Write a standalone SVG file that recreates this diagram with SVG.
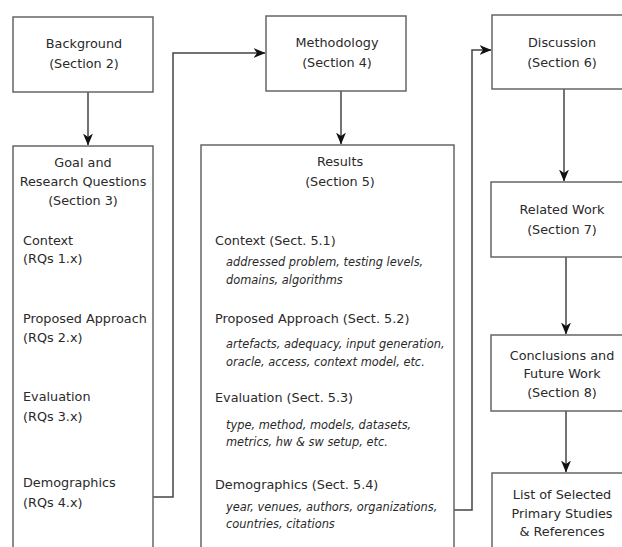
<svg xmlns="http://www.w3.org/2000/svg" width="622" height="547" viewBox="0 0 622 547">
<defs>
<marker id="ah" viewBox="0 0 12 10" refX="11.5" refY="5" markerWidth="12" markerHeight="10" markerUnits="userSpaceOnUse" orient="auto">
<path d="M0,0 L12,5 L0,10 L3.5,5 z" fill="#111"/>
</marker>
</defs>
<style>
.box{fill:#fff;stroke:#666;stroke-width:1.5}
.t{font-family:"DejaVu Sans",Verdana,sans-serif;font-size:12.8px;fill:#2a2a2a}
.c{text-anchor:middle}
.i{font-family:"DejaVu Sans",Verdana,sans-serif;font-size:11.4px;font-style:italic;fill:#2a2a2a}
.ln{fill:none;stroke:#444;stroke-width:1.5}
</style>
<rect width="622" height="547" fill="#fff"/>
<g id="connectors">
<line class="ln" x1="88" y1="92" x2="88" y2="145" marker-end="url(#ah)"/>
<line class="ln" x1="341" y1="91" x2="341" y2="144" marker-end="url(#ah)"/>
<polyline class="ln" points="153,497 173,497 173,53 265,53" marker-end="url(#ah)"/>
<polyline class="ln" points="454,510 472,510 472,50 491,50" marker-end="url(#ah)"/>
<line class="ln" x1="564" y1="89" x2="564" y2="181" marker-end="url(#ah)"/>
<line class="ln" x1="566" y1="257" x2="566" y2="334" marker-end="url(#ah)"/>
<line class="ln" x1="566" y1="411" x2="566" y2="472" marker-end="url(#ah)"/>
</g>
<g id="background">
<rect class="box" x="13" y="17" width="140" height="75"/>
<text class="t c" x="84" y="48">Background</text>
<text class="t c" x="84" y="68">(Section 2)</text>
</g>
<g id="goal">
<rect class="box" x="13" y="146" width="140" height="420"/>
<text class="t c" x="83" y="167">Goal and</text>
<text class="t c" x="83" y="186">Research Questions</text>
<text class="t c" x="83" y="205">(Section 3)</text>
<text class="t" x="23" y="245">Context</text>
<text class="t" x="23" y="263">(RQs 1.x)</text>
<text class="t" x="23" y="323">Proposed Approach</text>
<text class="t" x="23" y="342">(RQs 2.x)</text>
<text class="t" x="23" y="401">Evaluation</text>
<text class="t" x="23" y="421">(RQs 3.x)</text>
<text class="t" x="23" y="487">Demographics</text>
<text class="t" x="23" y="507">(RQs 4.x)</text>
</g>
<g id="methodology">
<rect class="box" x="266" y="16" width="140" height="75"/>
<text class="t c" x="337" y="47">Methodology</text>
<text class="t c" x="337" y="67">(Section 4)</text>
</g>
<g id="results">
<rect class="box" x="201" y="145" width="253" height="420"/>
<text class="t c" x="340" y="166">Results</text>
<text class="t c" x="340" y="186">(Section 5)</text>
<text class="t" x="215" y="245">Context (Sect. 5.1)</text>
<text class="i" x="226" y="266">addressed problem, testing levels,</text>
<text class="i" x="226" y="284">domains, algorithms</text>
<text class="t" x="215" y="323">Proposed Approach (Sect. 5.2)</text>
<text class="i" x="226" y="348">artefacts, adequacy, input generation,</text>
<text class="i" x="226" y="366">oracle, access, context model, etc.</text>
<text class="t" x="215" y="402">Evaluation (Sect. 5.3)</text>
<text class="i" x="226" y="429">type, method, models, datasets,</text>
<text class="i" x="226" y="446">metrics, hw &amp; sw setup, etc.</text>
<text class="t" x="215" y="489">Demographics (Sect. 5.4)</text>
<text class="i" x="226" y="511">year, venues, authors, organizations,</text>
<text class="i" x="226" y="528">countries, citations</text>
</g>
<g id="discussion">
<rect class="box" x="492" y="15" width="140" height="74"/>
<text class="t c" x="562" y="47">Discussion</text>
<text class="t c" x="562" y="67">(Section 6)</text>
</g>
<g id="related">
<rect class="box" x="491" y="182" width="140" height="75"/>
<text class="t c" x="562" y="214">Related Work</text>
<text class="t c" x="562" y="234">(Section 7)</text>
</g>
<g id="conclusions">
<rect class="box" x="491" y="335" width="140" height="76"/>
<text class="t c" x="562" y="360">Conclusions and</text>
<text class="t c" x="562" y="378">Future Work</text>
<text class="t c" x="562" y="397">(Section 8)</text>
</g>
<g id="list">
<rect class="box" x="492" y="473" width="140" height="100"/>
<text class="t c" x="562" y="499">List of Selected</text>
<text class="t c" x="562" y="518">Primary Studies</text>
<text class="t c" x="562" y="536">&amp; References</text>
</g>
</svg>
